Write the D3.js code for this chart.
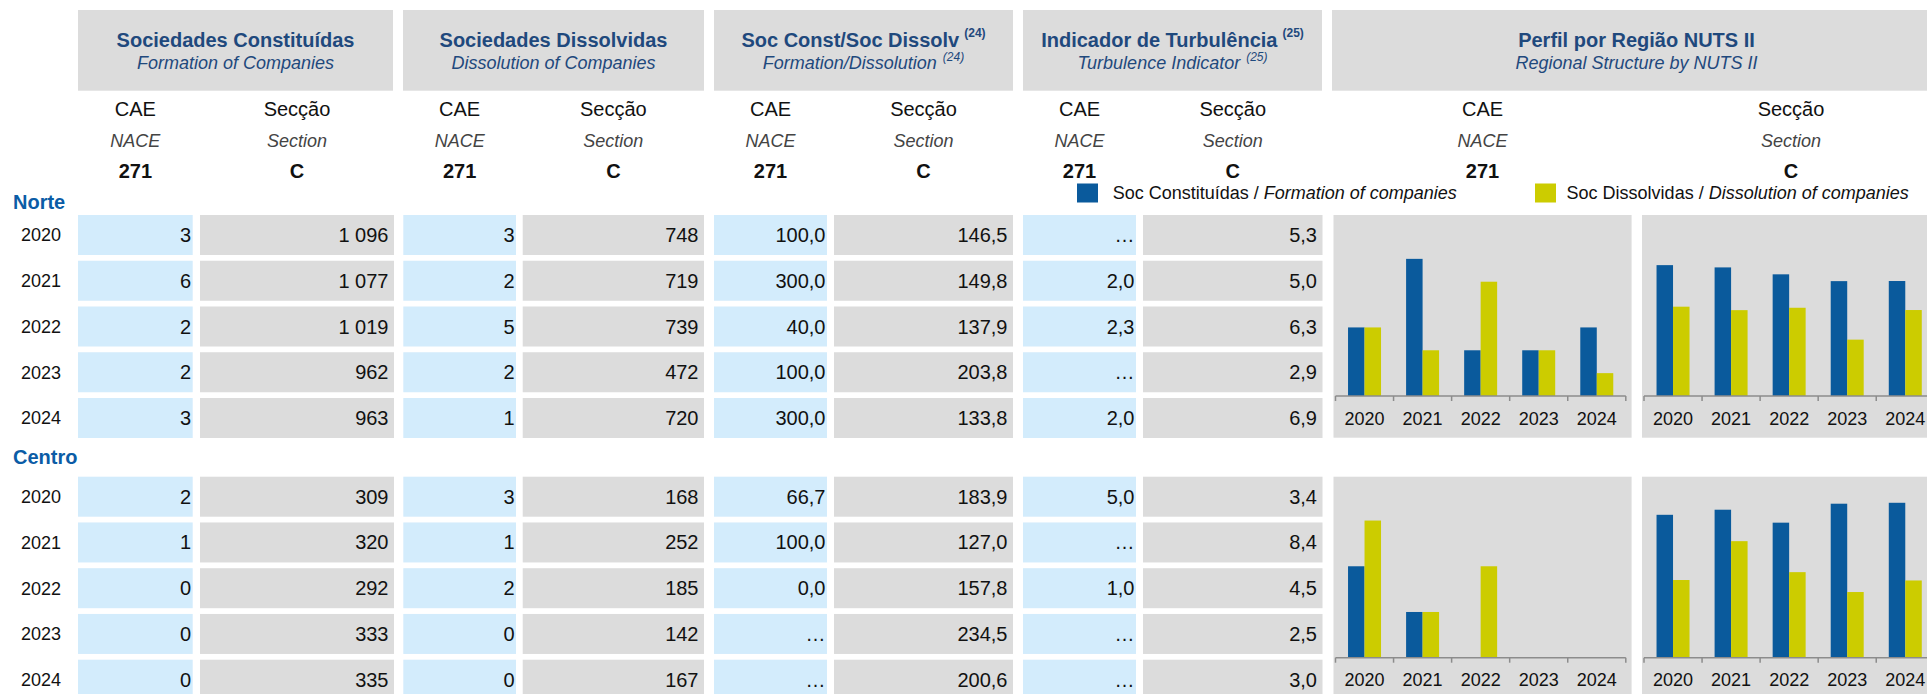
<!DOCTYPE html>
<html>
<head>
<meta charset="utf-8">
<script src="https://cdn.jsdelivr.net/npm/d3@7"></script>
<style>
    html, body { margin: 0; padding: 0; background: #fff; overflow: hidden; }
    svg { display: block; font-family: "Liberation Sans", Arial, sans-serif; }
</style>
</head>
<body>
<div id="chart"></div>
<script>
const years = ["2020", "2021", "2022", "2023", "2024"];
const regions = ["Norte", "Centro"];

const headerTitles = ["Sociedades Constituídas", "Sociedades Dissolvidas", "Soc Const/Soc Dissolv", "Indicador de Turbulência", "Perfil por Região NUTS II"];
const headerSubtitles = ["Formation of Companies", "Dissolution of Companies", "Formation/Dissolution", "Turbulence Indicator", "Regional Structure by NUTS II"];
const headerNotes = ["", "", "(24)", "(25)", ""];
const subLabelsPt = ["CAE", "Secção"];
const subLabelsEn = ["NACE", "Section"];
const subCodes = ["271", "C"];
const legendPt = ["Soc Constituídas", "Soc Dissolvidas"];
const legendEn = ["Formation of companies", "Dissolution of companies"];

// Norte
const norteConstCae = [3, 6, 2, 2, 3];
const norteConstSec = [1096, 1077, 1019, 962, 963];
const norteDissCae = [3, 2, 5, 2, 1];
const norteDissSec = [748, 719, 739, 472, 720];
const norteRatioCae = [100.0, 300.0, 40.0, 100.0, 300.0];
const norteRatioSec = [146.5, 149.8, 137.9, 203.8, 133.8];
const norteTurbCae = [null, 2.0, 2.3, null, 2.0];
const norteTurbSec = [5.3, 5.0, 6.3, 2.9, 6.9];

// Centro
const centroConstCae = [2, 1, 0, 0, 0];
const centroConstSec = [309, 320, 292, 333, 335];
const centroDissCae = [3, 1, 2, 0, 0];
const centroDissSec = [168, 252, 185, 142, 167];
const centroRatioCae = [66.7, 100.0, 0.0, null, null];
const centroRatioSec = [183.9, 127.0, 157.8, 234.5, 200.6];
const centroTurbCae = [5.0, null, 1.0, null, null];
const centroTurbSec = [3.4, 8.4, 4.5, 2.5, 3.0];

// hidden value-axis maximum of each small chart (Norte, Centro)
const caeAxisMax = [7, 3.5];
const secAxisMax = [1340, 346];

document.addEventListener('DOMContentLoaded', function () {
    drawTable();
});

function drawTable() {
    const W = 1927, H = 694;
    const blue = "#0a5a9c", yellow = "#cccc00";
    const grey = "#dcdcdc", lightBlue = "#d3ecfc";
    const titleColor = "#1f497d", regionColor = "#0b5ca6";

    const locale = d3.formatLocale({ decimal: ",", thousands: " ", grouping: [3], currency: ["", ""] });
    const fmtInt = locale.format(",d");
    const fmtDec = locale.format(",.1f");
    const show = f => v => v == null ? "…" : f(v);

    // table columns: [x0, x1], fill, number format, right padding
    const columns = [
        { x: [78, 192.7], fill: lightBlue, fmt: show(fmtInt), pad: 1.5 },
        { x: [200, 394], fill: grey, fmt: show(fmtInt), pad: 5.5 },
        { x: [403.3, 516], fill: lightBlue, fmt: show(fmtInt), pad: 1.5 },
        { x: [522.7, 704], fill: grey, fmt: show(fmtInt), pad: 5.5 },
        { x: [714, 827], fill: lightBlue, fmt: show(fmtDec), pad: 1.5 },
        { x: [834, 1013], fill: grey, fmt: show(fmtDec), pad: 5.5 },
        { x: [1023, 1136], fill: lightBlue, fmt: show(fmtDec), pad: 1.5 },
        { x: [1143, 1322.5], fill: grey, fmt: show(fmtDec), pad: 5.5 }
    ];
    const panels = [[78, 393], [403, 704], [714, 1013], [1023, 1322], [1332, 1941]];
    const chartCols = [[1333.5, 1631.6], [1642, 1940]];

    const tableRows = {
        Norte: [norteConstCae, norteConstSec, norteDissCae, norteDissSec, norteRatioCae, norteRatioSec, norteTurbCae, norteTurbSec],
        Centro: [centroConstCae, centroConstSec, centroDissCae, centroDissSec, centroRatioCae, centroRatioSec, centroTurbCae, centroTurbSec]
    };
    const chartSeries = {
        Norte: [[norteConstCae, norteDissCae], [norteConstSec, norteDissSec]],
        Centro: [[centroConstCae, centroDissCae], [centroConstSec, centroDissSec]]
    };
    const regionTop = [215, 476.7];
    const regionLabelY = [202, 457];

    const svg = d3.select("#chart").append("svg")
        .attr("width", W)
        .attr("height", H);

    // Header panels
    const head = svg.selectAll(".head").data(panels).enter().append("g").attr("class", "head");
    head.append("rect")
        .attr("x", d => d[0]).attr("y", 10)
        .attr("width", d => d[1] - d[0]).attr("height", 80.7)
        .attr("fill", grey);

    const title = head.append("text")
        .attr("x", d => (d[0] + d[1]) / 2)
        .attr("y", 46.5)
        .attr("text-anchor", "middle")
        .style("font-size", "20px")
        .style("font-weight", "bold")
        .attr("fill", titleColor);
    title.append("tspan").text((d, i) => headerTitles[i]);
    title.filter((d, i) => headerNotes[i]).append("tspan")
        .attr("dx", 5).attr("dy", -10)
        .style("font-size", "12px")
        .text((d, i) => headerNotes[panels.indexOf(d)]);

    const sub = head.append("text")
        .attr("x", d => (d[0] + d[1]) / 2)
        .attr("y", 69)
        .attr("text-anchor", "middle")
        .style("font-size", "18px")
        .style("font-style", "italic")
        .attr("fill", titleColor);
    sub.append("tspan").text((d, i) => headerSubtitles[i]);
    sub.filter((d, i) => headerNotes[i]).append("tspan")
        .attr("dx", 6).attr("dy", -8)
        .style("font-size", "12px")
        .text(d => headerNotes[panels.indexOf(d)]);

    // Sub headers: CAE / Secção, NACE / Section, 271 / C
    const subCenters = columns.map(c => (c.x[0] + c.x[1]) / 2).concat(chartCols.map(c => (c[0] + c[1]) / 2));
    const subG = svg.selectAll(".subhead").data(subCenters).enter().append("g")
        .attr("transform", d => `translate(${d},0)`);
    subG.append("text").attr("y", 109).attr("dy", "0.35em").attr("text-anchor", "middle")
        .style("font-size", "20px").attr("fill", "#111")
        .text((d, i) => subLabelsPt[i % 2]);
    subG.append("text").attr("y", 141).attr("dy", "0.35em").attr("text-anchor", "middle")
        .style("font-size", "18px").style("font-style", "italic").attr("fill", "#444")
        .text((d, i) => subLabelsEn[i % 2]);
    subG.append("text").attr("y", 171).attr("dy", "0.35em").attr("text-anchor", "middle")
        .style("font-size", "20px").style("font-weight", "bold").attr("fill", "#111")
        .text((d, i) => subCodes[i % 2]);

    // Legend
    const legendX = [[1077, 1112.7], [1535, 1566.6]];
    const leg = svg.selectAll(".legend").data(legendX).enter().append("g");
    leg.append("rect")
        .attr("x", d => d[0]).attr("y", 183.5)
        .attr("width", 21).attr("height", 19)
        .attr("fill", (d, i) => i === 0 ? blue : yellow);
    const legText = leg.append("text")
        .attr("x", d => d[1]).attr("y", 193).attr("dy", "0.35em")
        .style("font-size", "18px").attr("fill", "#111");
    legText.append("tspan").text((d, i) => legendPt[i] + " / ");
    legText.append("tspan").style("font-style", "italic").text((d, i) => legendEn[i]);

    // Region blocks
    regions.forEach((region, r) => {
        const top = regionTop[r];
        const yRow = d3.scaleBand().domain(years).range([top, top + 223]).paddingInner(0.1257);

        svg.append("text")
            .attr("x", 13).attr("y", regionLabelY[r]).attr("dy", "0.35em")
            .style("font-size", "20px").style("font-weight", "bold")
            .attr("fill", regionColor)
            .text(region);

        svg.selectAll(".year-" + region).data(years).enter().append("text")
            .attr("x", 41).attr("y", d => yRow(d) + yRow.bandwidth() / 2).attr("dy", "0.35em")
            .attr("text-anchor", "middle")
            .style("font-size", "18px").attr("fill", "#111")
            .text(d => d);

        columns.forEach((col, c) => {
            const vals = tableRows[region][c];
            const g = svg.append("g");
            g.selectAll("rect").data(years).enter().append("rect")
                .attr("x", col.x[0]).attr("y", d => yRow(d))
                .attr("width", col.x[1] - col.x[0]).attr("height", yRow.bandwidth())
                .attr("fill", col.fill);
            g.selectAll("text").data(years).enter().append("text")
                .attr("x", col.x[1] - col.pad)
                .attr("y", d => yRow(d) + yRow.bandwidth() / 2).attr("dy", "0.35em")
                .attr("text-anchor", "end")
                .style("font-size", "20px").attr("fill", "#111")
                .text((d, i) => col.fmt(vals[i]));
        });

        // small bar charts
        const axisMax = [caeAxisMax[r], secAxisMax[r]];
        chartCols.forEach((cc, k) => {
            drawBars(svg, cc, top, chartSeries[region][k], axisMax[k]);
        });
    });

    function drawBars(svg, cc, top, series, yMax) {
        const g = svg.append("g");
        const baseline = top + 181;
        const plotH = 160;

        g.append("rect")
            .attr("x", cc[0]).attr("y", top)
            .attr("width", cc[1] - cc[0]).attr("height", 222.7)
            .attr("fill", grey);

        const x0 = d3.scaleBand().domain(years).range([cc[0] + 2, cc[0] + 292.3]);
        const x1 = d3.scaleBand().domain([0, 1]).range([0, x0.bandwidth()]).paddingOuter(0.76);
        const y = d3.scaleLinear().domain([0, yMax]).range([baseline, baseline - plotH]);

        const groups = g.selectAll(".yr").data(years).enter().append("g")
            .attr("transform", d => `translate(${x0(d)},0)`);
        groups.selectAll("rect")
            .data((d, i) => series.map(s => s[i]))
            .enter().append("rect")
            .attr("x", (d, j) => x1(j))
            .attr("y", d => y(d))
            .attr("width", x1.bandwidth())
            .attr("height", d => baseline - y(d))
            .attr("fill", (d, j) => j === 0 ? blue : yellow);

        // category axis with ticks between the categories
        g.append("line")
            .attr("x1", x0.range()[0]).attr("x2", x0.range()[1])
            .attr("y1", baseline).attr("y2", baseline)
            .attr("stroke", "#8c8c8c").attr("stroke-width", 1.5);
        g.selectAll(".tk").data(years.concat(["end"])).enter().append("line")
            .attr("x1", d => d === "end" ? x0.range()[1] : x0(d))
            .attr("x2", d => d === "end" ? x0.range()[1] : x0(d))
            .attr("y1", baseline).attr("y2", baseline + 5)
            .attr("stroke", "#8c8c8c").attr("stroke-width", 1.5);

        const ax = g.append("g")
            .attr("transform", `translate(0,${baseline})`)
            .call(d3.axisBottom(x0).tickSize(0).tickPadding(16));
        ax.select(".domain").remove();
        ax.selectAll("text")
            .style("font-size", "18px")
            .style("font-family", "'Liberation Sans', Arial, sans-serif")
            .attr("fill", "#111");
    }
}
</script>
</body>
</html>
